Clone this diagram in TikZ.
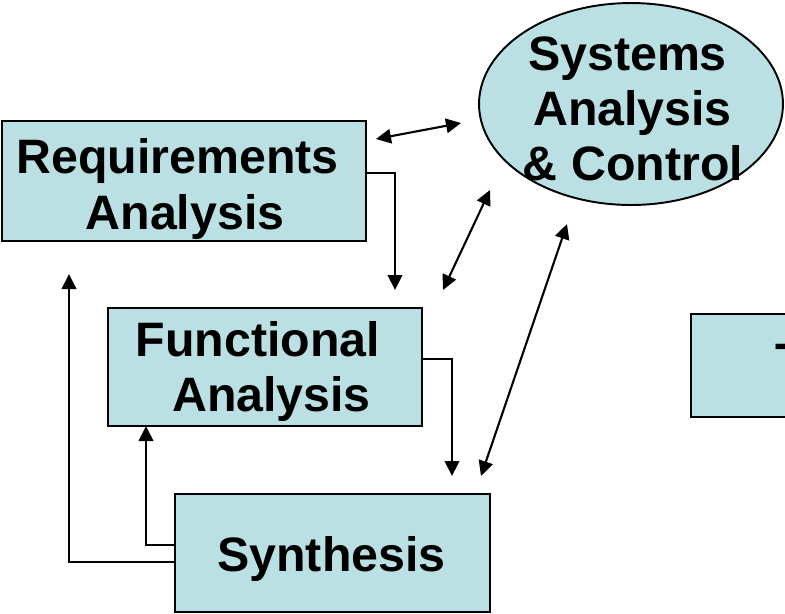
\documentclass[tikz,border=0pt]{standalone}
\usepackage{fontspec}
\setmainfont{Liberation Sans}
\usetikzlibrary{arrows.meta,shapes.geometric}
\definecolor{boxblue}{RGB}{187,224,227}
\tikzset{
  blockbox/.style={draw,fill=boxblue,line width=1.1pt,inner sep=0pt},
  sacshape/.style={draw,fill=boxblue,line width=1.1pt,ellipse,inner sep=0pt},
  word/.style={anchor=base,inner sep=0pt},
  link/.style={line width=1.2pt,-{Triangle[length=0.3cm,width=0.29cm]}},
  dlink/.style={line width=1.2pt,{Triangle[length=0.3cm,width=0.29cm]}-{Triangle[length=0.3cm,width=0.29cm]}},
}
\begin{document}
\begin{tikzpicture}[x=0.02cm,y=-0.02cm,font=\fontsize{27.5}{31}\selectfont\bfseries]
    \useasboundingbox (0,0) rectangle (785,613);
    % blocchi
    \node[blockbox,minimum width=7.28cm,minimum height=2.4cm] (req) at (184,181) {};
    \node[word] (reqa) at (177.5,173) {Requirements};
    \node[word] (reqb) at (185,229) {Analysis};
    \node[blockbox,minimum width=6.28cm,minimum height=2.36cm] (func) at (265,367) {};
    \node[word] (funca) at (258,356) {Functional};
    \node[word] (funcb) at (271.5,411) {Analysis};
    \node[blockbox,minimum width=6.3cm,minimum height=2.36cm] (synth) at (332.5,553) {};
    \node[word] (syntha) at (331.5,571) {Synthesis};
    \node[sacshape,minimum width=6.08cm,minimum height=4.04cm] (sac) at (631,104) {}; %ellisse
    \node[word] (saca) at (627.5,70) {Systems};
    \node[word] (sacb) at (632.5,125) {Analysis};
    \node[word] (sacc) at (633,180) {\& Control};
    \node[blockbox,minimum width=4cm,minimum height=2.06cm,anchor=north west] (out) at (690,313) {}; %blocco tagliato
    \node[anchor=base west,inner sep=0pt] (outtext) at (775,377) {T};
    % estremi liberi delle frecce
    \coordinate (reqtip) at (395,290);
    \coordinate (functip) at (452,476);
    \coordinate (funcup) at (146,426);
    \coordinate (requp) at (69,274);
    \coordinate (sacA) at (376,139);
    \coordinate (sacAend) at (461,123);
    \coordinate (sacB) at (443,290);
    \coordinate (sacBend) at (490,190);
    \coordinate (sacC) at (481,476);
    \coordinate (sacCend) at (567,224);
    % frecce
    \draw[link] ([yshift=0.16cm]req.east) -| (reqtip);
    \draw[link] ([yshift=0.16cm]func.east) -| (functip);
    \draw[link] ([yshift=0.16cm]synth.west) -| (funcup);
    \draw[link] ([yshift=-0.18cm]synth.west) -| (requp);
    \draw[dlink] (sacA) -- (sacAend);
    \draw[dlink] (sacB) -- (sacBend);
    \draw[dlink] (sacC) -- (sacCend);
  \end{tikzpicture}
\end{document}
